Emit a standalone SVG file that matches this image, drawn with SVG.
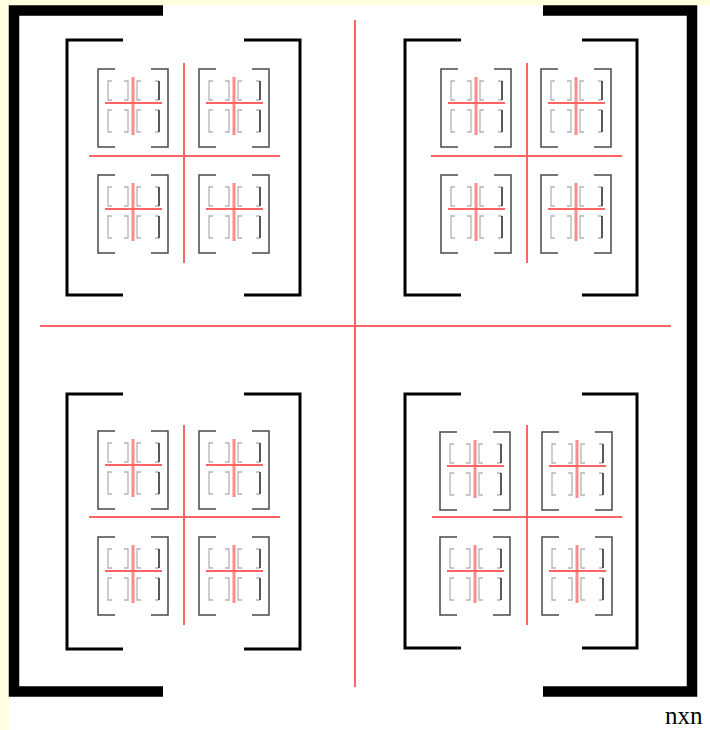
<svg xmlns="http://www.w3.org/2000/svg" xmlns:xlink="http://www.w3.org/1999/xlink" width="710" height="730" viewBox="0 0 710 730">
  <style>
    .b0 { fill: none; stroke: #000; stroke-width: 10.5; stroke-linejoin: miter; }
    .b1 { fill: none; stroke: #000; stroke-width: 3; }
    .b2 { fill: none; stroke: #4a4a4a; stroke-width: 1.5; }
    .b3 { fill: none; stroke: #b4b4b4; stroke-width: 1.3; }
    .b3d { fill: none; stroke: #222; stroke-width: 1.5; }
    .r { stroke: #ff6464; stroke-width: 2; fill: none; }
    .rv { stroke: #ff8c8c; stroke-width: 3; fill: none; }
    .lbl { font-family: "Liberation Serif", "Times New Roman", serif; font-size: 25px; fill: #000; }
  </style>
  <defs>
    <g id="sub">
      <path class="b2" d="M17,0 H0 V78 H17 M53,0 H70 V78 H53"/>
      <path class="b3" d="M14,12 H10 V31 H14 M26,12 H30 V31 H26 M43,12 H39 V31 H43 M14,41 H10 V63 H14 M26,41 H30 V63 H26 M43,41 H39 V63 H43"/>
      <path class="b3" d="M57,12 H61 M57,31 H61 M57,41 H61 M57,63 H61"/>
      <path class="b3d" d="M61,12 V31 M61,41 V63"/>
      <line class="rv" x1="35" y1="8" x2="35" y2="66"/>
      <line class="r" x1="7" y1="34" x2="64" y2="34"/>
    </g>
  </defs>
  <rect x="0" y="0" width="710" height="730" fill="#ffffe0"/>
  <rect x="9" y="5" width="701" height="725" fill="#ffffff"/>

  <g id="outer">
    <path class="b0" d="M163,10.5 H14 V691.5 H163"/>
    <path class="b0" d="M543,10.5 H692 V691.5 H543"/>
  </g>

  <g id="connectors">
    <line class="r" x1="355" y1="20" x2="355" y2="687"/>
    <line class="r" x1="40" y1="326" x2="671" y2="326"/>
  </g>

  <g id="block-tl">
    <path class="b1" d="M123,40 H67 V295 H123 M244,40 H300 V295 H244"/>
    <line class="r" x1="184" y1="63" x2="184" y2="263"/>
    <line class="r" x1="89" y1="156" x2="280" y2="156"/>
    <use xlink:href="#sub" href="#sub" x="98" y="69"/>
    <use xlink:href="#sub" href="#sub" x="199" y="69"/>
    <use xlink:href="#sub" href="#sub" x="98" y="175"/>
    <use xlink:href="#sub" href="#sub" x="199" y="175"/>
  </g>

  <g id="block-tr">
    <path class="b1" d="M461,40 H405 V295 H461 M582,40 H637 V295 H582"/>
    <line class="r" x1="527" y1="63" x2="527" y2="263"/>
    <line class="r" x1="431" y1="156" x2="622" y2="156"/>
    <use xlink:href="#sub" href="#sub" x="441" y="69"/>
    <use xlink:href="#sub" href="#sub" x="541" y="69"/>
    <use xlink:href="#sub" href="#sub" x="441" y="175"/>
    <use xlink:href="#sub" href="#sub" x="541" y="175"/>
  </g>

  <g id="block-bl">
    <path class="b1" d="M123,394 H67 V649 H123 M244,394 H300 V649 H244"/>
    <line class="r" x1="184" y1="425" x2="184" y2="625"/>
    <line class="r" x1="89" y1="517" x2="280" y2="517"/>
    <use xlink:href="#sub" href="#sub" x="98" y="431"/>
    <use xlink:href="#sub" href="#sub" x="199" y="431"/>
    <use xlink:href="#sub" href="#sub" x="98" y="537"/>
    <use xlink:href="#sub" href="#sub" x="199" y="537"/>
  </g>

  <g id="block-br">
    <path class="b1" d="M461,394 H405 V648 H461 M582,394 H637 V648 H582"/>
    <line class="r" x1="527" y1="425" x2="527" y2="625"/>
    <line class="r" x1="432" y1="517" x2="622" y2="517"/>
    <use xlink:href="#sub" href="#sub" x="440" y="432"/>
    <use xlink:href="#sub" href="#sub" x="542" y="432"/>
    <use xlink:href="#sub" href="#sub" x="440" y="537"/>
    <use xlink:href="#sub" href="#sub" x="542" y="537"/>
  </g>

  <text class="lbl" x="665" y="724">nxn</text>
</svg>
